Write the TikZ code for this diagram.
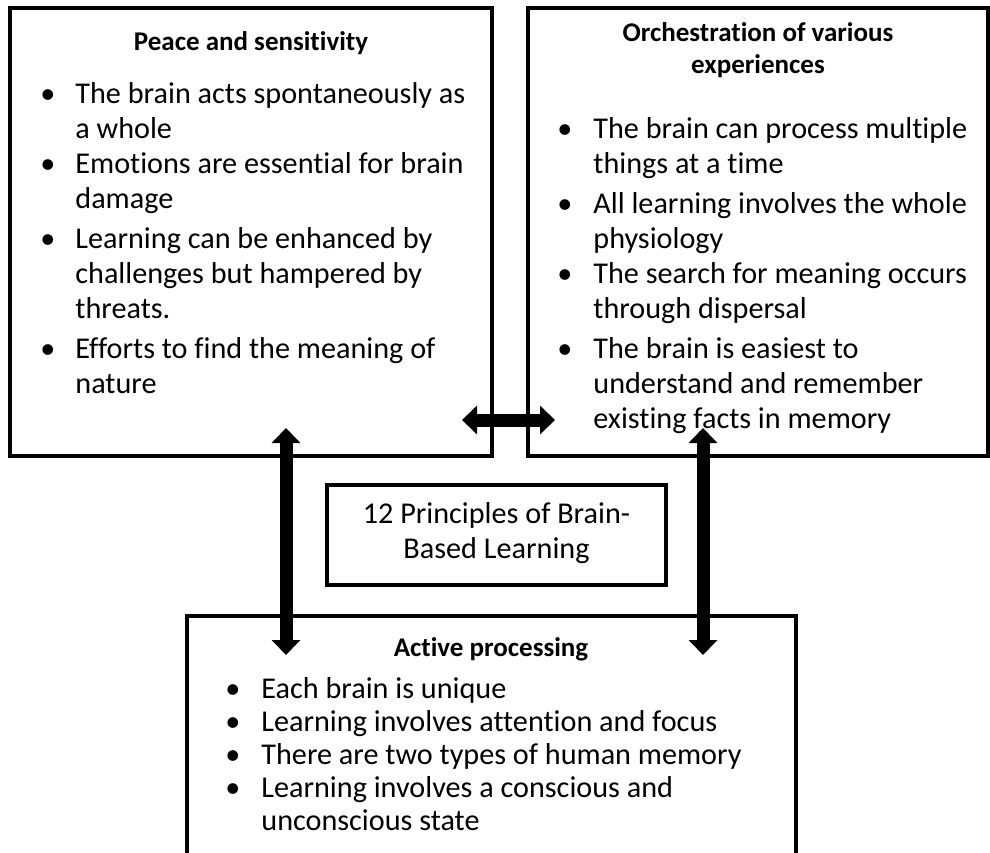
\documentclass[tikz,border=0pt]{standalone}
\usepackage{fontspec}
\setmainfont{Carlito}[Ligatures=NoCommon]
\usetikzlibrary{
    arrows.meta,
    positioning,
    calc
}
\newcommand{\bodyfont}{\fontsize{15.1pt}{18pt}\selectfont}
\newcommand{\headfont}{\fontsize{13.5pt}{16.5pt}\selectfont\bfseries}
\tikzset{
    panel/.style={draw, line width=1.6pt, anchor=north west, inner sep=0pt, outer sep=0pt},
    txt/.style={anchor=base west, inner sep=0pt, font=\bodyfont},
    head/.style={anchor=base, inner sep=0pt, font=\headfont},
    dot/.style={anchor=base, inner sep=0pt, font=\bodyfont},
    bigarrow/.style={line width=6.5pt, arrows={Triangle[length=7.5pt,width=14pt]-Triangle[length=7.5pt,width=14pt]}}
}

\begin{document}
\begin{tikzpicture}[x=0.5pt, y=-0.5pt]
        \useasboundingbox (0,0) rectangle (990,852);
        \clip (0,0) rectangle (990,852);

        % The four boxes
        \node[panel, minimum width=241pt, minimum height=224pt] (peace) at (10,8) {};
        \node[panel, minimum width=230pt, minimum height=224pt] (orch) at (528,8) {};
        \node[panel, minimum width=169.5pt, minimum height=50pt] (core) at (327,485) {};
        \node[panel, minimum width=304.5pt, minimum height=140pt] (active) at (187,616) {};

        % Peace and sensitivity
        \node[head] (peaceT) at (251,50) {Peace and sensitivity};
        \foreach \i/\y in {1/103, 2/173, 3/248, 4/358} {
            \node[dot] (pb\i) at (48,\y) {\textbullet};
        }
        \foreach \i/\y/\t in {1/103/The brain acts spontaneously as, 2/138/a whole,
            3/173/Emotions are essential for brain, 4/208/damage,
            5/248/Learning can be enhanced by, 6/283/challenges but hampered by, 7/318/threats.,
            8/358/Efforts to find the meaning of, 9/393/nature} {
            \node[txt] (pl\i) at (75,\y) {\t};
        }

        % Orchestration of various experiences
        \node[head] (orchT1) at (758,41) {Orchestration of various};
        \node[head] (orchT2) at (758,73) {experiences};
        \foreach \i/\y in {1/138, 2/213, 3/283, 4/358} {
            \node[dot] (ob\i) at (565,\y) {\textbullet};
        }
        \foreach \i/\y/\t in {1/138/The brain can process multiple, 2/173/things at a time,
            3/213/All learning involves the whole, 4/248/physiology,
            5/283/The search for meaning occurs, 6/318/through dispersal,
            7/358/The brain is easiest to, 8/393/understand and remember, 9/428/existing facts in memory} {
            \node[txt] (ol\i) at (593,\y) {\t};
        }

        % Centre box
        \node[dot] (coreT1) at (core.center |- 0,523) {12 Principles of Brain-};
        \node[dot] (coreT2) at (core.center |- 0,558) {Based Learning};

        % Active processing
        \node[head] (activeT) at (491,656) {Active processing};
        \foreach \i/\y in {1/698, 2/731, 3/764, 4/797} {
            \node[dot] (ab\i) at (233,\y) {\textbullet};
        }
        \foreach \i/\y/\t in {1/698/Each brain is unique, 2/731/Learning involves attention and focus,
            3/764/There are two types of human memory, 4/797/Learning involves a conscious and,
            5/830/unconscious state} {
            \node[txt] (al\i) at (261,\y) {\t};
        }

        % Double arrows
        \coordinate (hL) at ($(peace.south east)+(-30,-36)$);
        \coordinate (hR) at ($(orch.south west)+(27,-36)$);
        \coordinate (vLt) at ($(peace.south west)+(276,-28)$);
        \coordinate (vLb) at ($(active.north west)+(99,39)$);
        \coordinate (vRt) at ($(orch.south west)+(175,-28)$);
        \coordinate (vRb) at ($(active.north west)+(516,39)$);
        \draw[bigarrow] (hL) -- (hR);
        \draw[bigarrow] (vLt) -- (vLb);
        \draw[bigarrow] (vRt) -- (vRb);
    \end{tikzpicture}
\end{document}
